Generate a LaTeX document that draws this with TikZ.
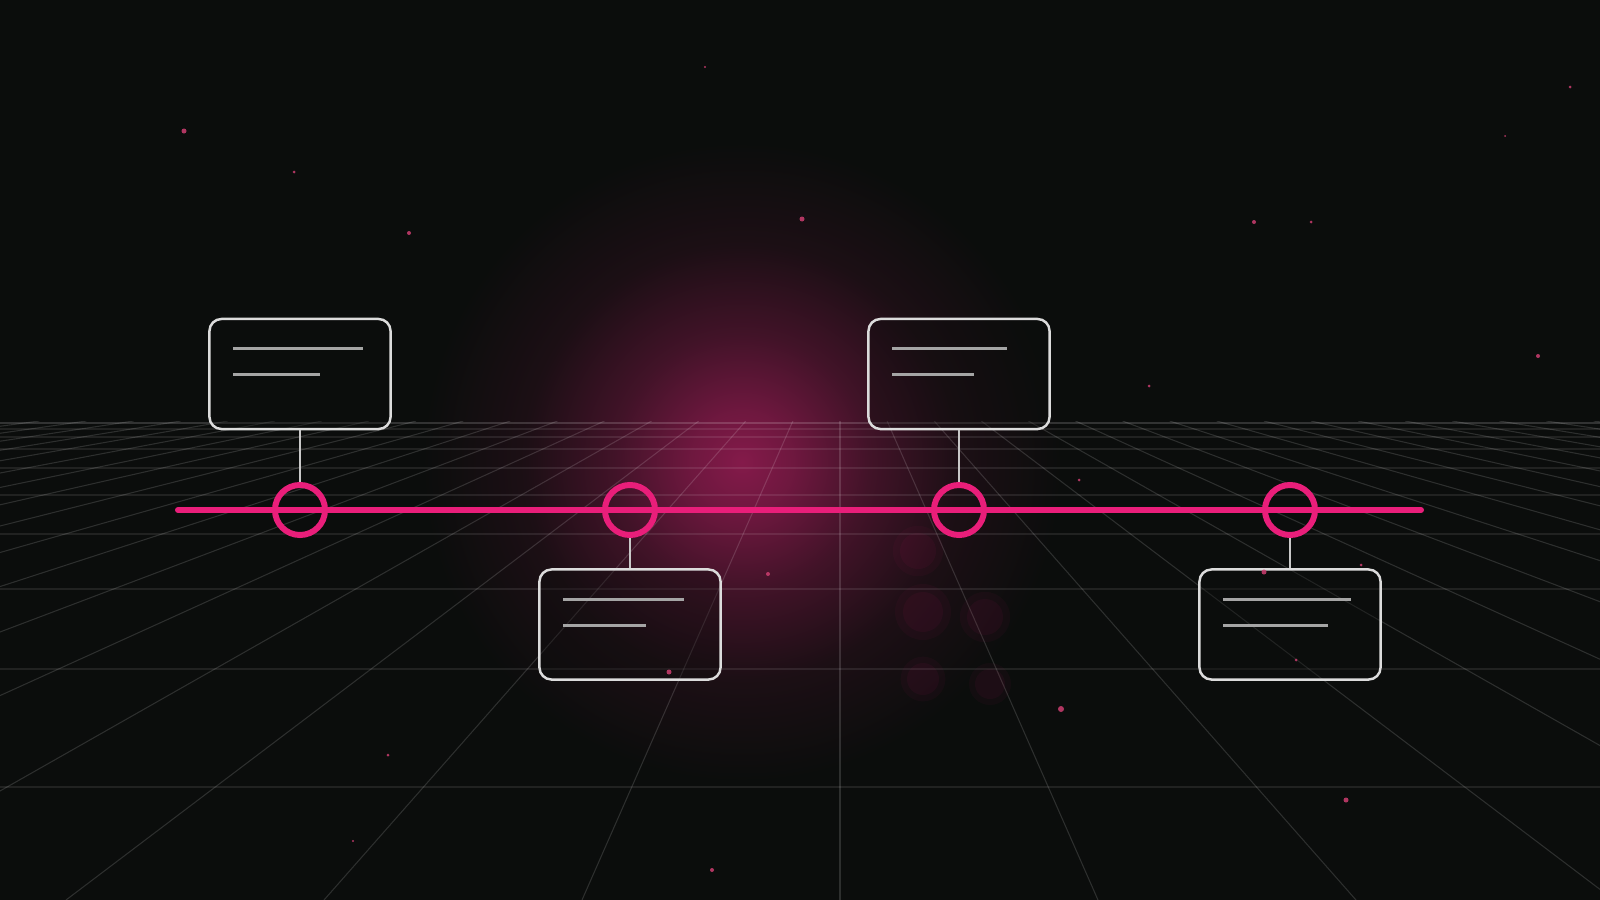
\documentclass[tikz,border=0pt]{standalone}
\usetikzlibrary{calc}
\definecolor{bg}{RGB}{11,13,12}
\definecolor{tlpink}{RGB}{233,30,122}
\definecolor{boxline}{RGB}{220,220,220}
\definecolor{textline}{RGB}{165,165,165}
\definecolor{linkgray}{RGB}{200,200,200}
\definecolor{dotpink}{RGB}{205,62,112}
\definecolor{glowcore}{RGB}{132,26,74}
\pgfdeclareradialshading{pinkglow}{\pgfpoint{0bp}{0bp}}{color(0bp)=(glowcore);
  color(4bp)=(glowcore!82!bg); color(10bp)=(glowcore!45!bg);
  color(17bp)=(glowcore!14!bg); color(25bp)=(bg); color(50bp)=(bg)}
\tikzset{stop ring/.style={circle,draw=tlpink,line width=1.7pt,
                           minimum size=0.5cm,inner sep=0pt},
         note box/.style={draw=boxline,line width=0.7pt,rounded corners=0.12cm,
                          minimum width=1.81cm,minimum height=1.1cm,inner sep=0pt,
                          fill=bg,fill opacity=0.35},
         link/.style={draw=linkgray,line width=0.6pt},
         note line/.style={draw=textline,line width=0.8pt},
         floor line/.style={white,opacity=0.09,line width=0.5pt},
         floor ray/.style={white,opacity=0.14,line width=0.3pt}}

\begin{document}
\begin{tikzpicture}[x=0.01cm,y=-0.01cm]
        % backdrop and glow
        \fill[bg] (0,0) rectangle (1600,900);
        \useasboundingbox (0,0) rectangle (1600,900);
        \shade[shading=pinkglow] (742,462) circle (320);
        %
        % the floor grid
        \begin{scope}
            \clip (0,421) rectangle (1600,900);
            \foreach \Y in {429,437,449,468,495,534,589,669,787}
                {\draw[floor line] (0,\Y) -- (1600,\Y);}
            \draw[floor line,opacity=0.16] (0,423) -- (1600,423);
            \foreach \k in {-20,...,20}
                {\draw[floor ray] ({840+47.1*\k},421) -- ({840+258*\k},900);}
        \end{scope}
        % blurred shapes behind the third stop
        \foreach \X/\Y/\R in {918/551/18,923/612/20,985/617/18,923/679/16,990/684/15}
            {
                \fill[tlpink,opacity=0.04] (\X,\Y) circle ({\R*1.4});
                \fill[tlpink,opacity=0.05] (\X,\Y) circle (\R);
            }
        %
        % the timeline
        \coordinate (tl start) at (178,510);
        \coordinate (tl end) at (1421,510);
        \draw[tlpink,line width=1.7pt,line cap=round] (tl start) -- (tl end);
        \foreach \X [count=\Y] in {300,630,959,1290}
            {\node[stop ring] (s\Y) at (\X,510) {};}
        %
        \node[note box] (b1) at (300,374) {};
        \node[note box] (b2) at (630,624.5) {};
        \node[note box] (b3) at (959,374) {};
        \node[note box] (b4) at (1290,624.5) {};
        \foreach \B/\La/\Lb in {1/130/87,2/121/83,3/115/82,4/128/105}
            {
                \draw[link] (b\B) -- (s\B);
                \draw[note line] ($(b\B.north west)+(25,31)$) -- +(\La,0);
                \draw[note line] ($(b\B.north west)+(25,57)$) -- +(\Lb,0);
            }
        %
        % specks
        \foreach \X/\Y/\R in {184/131/2.5,294/172/1.5,409/233/2,802/219/2.5,705/67/1.2,
                              1254/222/2,1311/222/1.5,1570/87/1.5,1505/136/1,1538/356/2,
                              1149/386/1.5,768/574/2,669/672/2.5,1061/709/3,388/755/1.5,
                              353/841/1.2,712/870/2,1346/800/2.5,1079/480/1.5,1264/572/2.5,
                              1296/660/1.5,1361/565/1.5}
            {\fill[dotpink,opacity=0.85] (\X,\Y) circle (\R);}
\end{tikzpicture}
\end{document}
